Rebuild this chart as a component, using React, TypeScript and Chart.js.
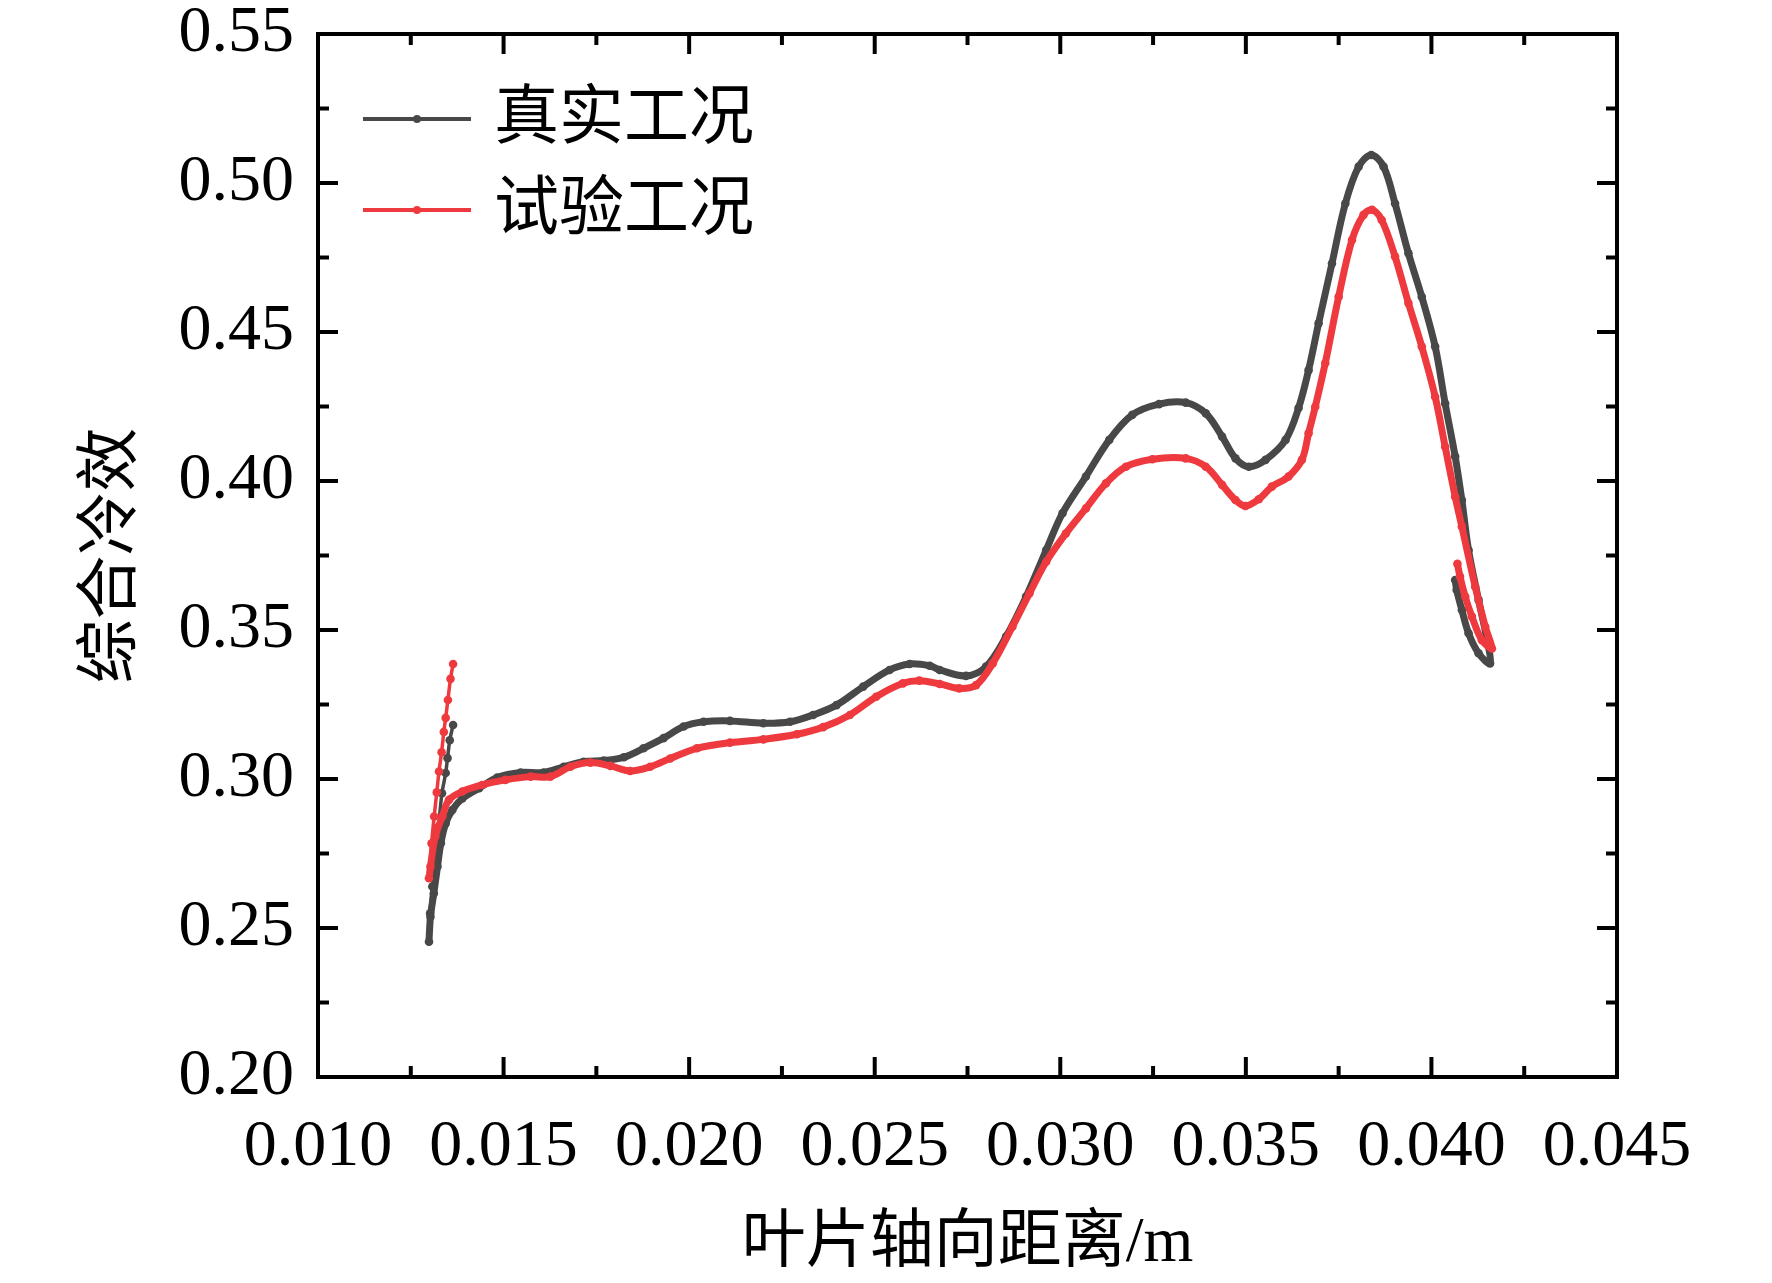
import React, { useEffect, useRef } from "react";
import { Chart, registerables } from "chart.js";

Chart.register(...registerables);

// 真实工况 (dark grey): leading-edge spike, main curve, trailing-edge hook
const realX = [
  0.01364, 0.01355, 0.01349, 0.01344, 0.01334, 0.01325, 0.01316, 0.01308, 0.01302, 0.01299,
  0.01303, 0.01312, 0.01322, 0.01331, 0.01344, 0.01362, 0.01389, 0.01434, 0.01483, 0.01546,
  0.01608, 0.01662, 0.01716, 0.0177, 0.01824, 0.01877, 0.01931, 0.01985, 0.02039, 0.0211,
  0.022, 0.02272, 0.02334, 0.02397, 0.02469, 0.0254, 0.02594, 0.02648, 0.02675, 0.02746,
  0.028, 0.02854, 0.02908, 0.02962, 0.03006, 0.03069, 0.03132, 0.03194, 0.03266, 0.03338,
  0.03392, 0.03436, 0.03472, 0.03508, 0.03553, 0.03607, 0.03642, 0.03669, 0.03696, 0.03732,
  0.03768, 0.03804, 0.03838, 0.03871, 0.03902, 0.03938, 0.03974, 0.0401, 0.04037, 0.04064,
  0.04082, 0.041, 0.04127, 0.0415, 0.04158, 0.04127, 0.041, 0.04082, 0.04068, 0.04064,
];
const realY = [
  0.3181, 0.313, 0.307, 0.302, 0.2952, 0.284, 0.2728, 0.2639, 0.2549, 0.2454,
  0.2538, 0.2616, 0.2706, 0.2784, 0.2851, 0.2896, 0.2935, 0.2969, 0.3005, 0.3022,
  0.3022, 0.3041, 0.3058, 0.3062, 0.3073, 0.3103, 0.3137, 0.3176, 0.3192, 0.3195,
  0.3187, 0.3192, 0.3215, 0.3248, 0.331, 0.3366, 0.3386, 0.338, 0.3366, 0.3346,
  0.3377, 0.3478, 0.3612, 0.3768, 0.3892, 0.4015, 0.4138, 0.4222, 0.4258, 0.4263,
  0.4227, 0.4149, 0.4076, 0.4048, 0.4071, 0.4138, 0.4245, 0.4372, 0.4529, 0.473,
  0.4931, 0.5055, 0.5094, 0.5055, 0.4931, 0.4764, 0.4618, 0.4451, 0.426, 0.4082,
  0.3936, 0.3768, 0.3601, 0.3466, 0.3388, 0.3422, 0.3489, 0.3567, 0.3634, 0.3668,
];

// 试验工况 (red)
const testX = [
  0.01364, 0.01357, 0.0135, 0.01344, 0.01339, 0.01333, 0.01326, 0.0132, 0.01313, 0.01306,
  0.01299, 0.01303, 0.01316, 0.01335, 0.01353, 0.01389, 0.01442, 0.01505, 0.01573, 0.01626,
  0.0168, 0.01734, 0.01788, 0.01841, 0.01895, 0.01949, 0.02021, 0.0211, 0.022, 0.0229,
  0.02361, 0.02433, 0.02504, 0.02576, 0.0262, 0.02675, 0.02728, 0.02773, 0.02818, 0.02871,
  0.02917, 0.02962, 0.03015, 0.03069, 0.03123, 0.03177, 0.03248, 0.03338, 0.03392, 0.03436,
  0.03472, 0.03499, 0.03535, 0.0357, 0.03615, 0.03651, 0.03669, 0.03687, 0.03714, 0.0375,
  0.03786, 0.03817, 0.0384, 0.03866, 0.03902, 0.03938, 0.03974, 0.0401, 0.04037, 0.04064,
  0.04082, 0.04118, 0.04145, 0.04163, 0.04136, 0.04109, 0.04091, 0.04077, 0.0407,
];
const testY = [
  0.3386, 0.3336, 0.3265, 0.3205, 0.3158, 0.309, 0.3025, 0.2955, 0.2874, 0.2784,
  0.2667, 0.2706, 0.2807, 0.2874, 0.293, 0.2958, 0.298, 0.2997, 0.3008, 0.3008,
  0.3041, 0.3055, 0.3044, 0.3027, 0.3041, 0.3069, 0.3103, 0.3122, 0.3133, 0.315,
  0.3174, 0.3215, 0.3276, 0.3321, 0.333, 0.3319, 0.3304, 0.3315, 0.3388, 0.3511,
  0.3623, 0.3729, 0.3824, 0.3908, 0.3992, 0.4048, 0.4073, 0.4076, 0.4048, 0.3987,
  0.3936, 0.3916, 0.3939, 0.3981, 0.4015, 0.4071, 0.416, 0.4249, 0.4396, 0.4618,
  0.4809, 0.4893, 0.491, 0.4876, 0.4753, 0.4597, 0.4451, 0.4283, 0.4115, 0.3947,
  0.3847, 0.3645, 0.3511, 0.3438, 0.3466, 0.3545, 0.3612, 0.3679, 0.3722,
];

const seriesNames = ["真实工况", "试验工况"];
const xTicks = [0.01, 0.015, 0.02, 0.025, 0.03, 0.035, 0.04, 0.045];
const yTicks = [0.2, 0.25, 0.3, 0.35, 0.4, 0.45, 0.5, 0.55];
// last point index of the thin leading-edge spike in each series
const spikeEnd = [9, 10];

const FONT = '"Liberation Serif", "Noto Sans CJK SC", serif';
const GREY = "#484848";
const RED = "#ee3a3e";

// box, inward ticks on all four sides, and the legend in the top-left corner
const framePlugin = {
  id: "frame",
  afterDraw(chart: any) {
    const { ctx, chartArea: a, scales } = chart;
    const xs = scales.x;
    const ys = scales.y;
    ctx.save();
    ctx.strokeStyle = "#000";
    ctx.lineWidth = 4;
    ctx.lineCap = "butt";
    ctx.strokeRect(a.left, a.top, a.right - a.left, a.bottom - a.top);

    const line = (x1: number, y1: number, x2: number, y2: number) => {
      ctx.beginPath();
      ctx.moveTo(x1, y1);
      ctx.lineTo(x2, y2);
      ctx.stroke();
    };
    const xMark = (v: number, len: number) => {
      const p = xs.getPixelForValue(v);
      line(p, a.bottom, p, a.bottom - len);
      line(p, a.top, p, a.top + len);
    };
    const yMark = (v: number, len: number) => {
      const p = ys.getPixelForValue(v);
      line(a.left, p, a.left + len, p);
      line(a.right, p, a.right - len, p);
    };
    xTicks.forEach((v, i) => {
      xMark(v, 20);
      if (i < xTicks.length - 1) xMark((v + xTicks[i + 1]) / 2, 11);
    });
    yTicks.forEach((v, i) => {
      yMark(v, 20);
      if (i < yTicks.length - 1) yMark((v + yTicks[i + 1]) / 2, 11);
    });

    // legend
    chart.data.datasets.forEach((ds: any, i: number) => {
      const rowY = a.top + 85 + i * 91;
      ctx.strokeStyle = ds.borderColor;
      ctx.lineWidth = 4;
      line(a.left + 45, rowY, a.left + 153, rowY);
      ctx.fillStyle = ds.borderColor;
      ctx.beginPath();
      ctx.arc(a.left + 99, rowY, 4, 0, Math.PI * 2);
      ctx.fill();
      ctx.fillStyle = "#000";
      ctx.font = `65px ${FONT}`;
      ctx.textAlign = "left";
      ctx.textBaseline = "middle";
      ctx.fillText(ds.label, a.left + 176, rowY + 2);
    });
    ctx.restore();
  },
};

const makeSeries = (idx: number, xs: number[], ys: number[], color: string) => ({
  label: seriesNames[idx],
  data: xs.map((x, i) => ({ x, y: ys[i] })),
  showLine: true,
  borderColor: color,
  backgroundColor: color,
  borderWidth: 7,
  pointRadius: 4.3,
  pointHoverRadius: 4.3,
  pointBorderWidth: 0,
  tension: 0.35,
  segment: {
    borderWidth: (c: any) => (c.p1DataIndex <= spikeEnd[idx] ? 3.5 : 7),
  },
});

export default function App() {
  const canvasRef = useRef<HTMLCanvasElement | null>(null);
  const chartRef = useRef<Chart | null>(null);

  useEffect(() => {
    const ctx = canvasRef.current?.getContext("2d");
    if (!ctx) return;
    if (chartRef.current) chartRef.current.destroy();

    chartRef.current = new Chart(ctx, {
      type: "scatter",
      data: {
        datasets: [
          { ...makeSeries(0, realX, realY, GREY), order: 1 },
          { ...makeSeries(1, testX, testY, RED), order: 0 },
        ],
      },
      options: {
        animation: false,
        responsive: true,
        maintainAspectRatio: false,
        devicePixelRatio: 1,
        layout: { padding: { top: 34, right: 155, bottom: 0, left: 0 } },
        plugins: { legend: { display: false }, tooltip: { enabled: false } },
        scales: {
          x: {
            type: "linear",
            min: 0.01,
            max: 0.045,
            afterBuildTicks: (s: any) => {
              s.ticks = xTicks.map((v) => ({ value: v }));
            },
            afterFit: (s: any) => {
              s.height = 206;
              s.paddingLeft = 0;
              s.paddingRight = 0;
            },
            ticks: {
              callback: (v: any) => Number(v).toFixed(3),
              font: { family: FONT, size: 66 },
              color: "#000",
              padding: 31,
              maxRotation: 0,
              autoSkip: false,
            },
            grid: { display: false, drawTicks: false },
            border: { display: false },
            title: {
              display: true,
              text: "叶片轴向距离/m",
              font: { family: FONT, size: 64 },
              color: "#000",
              padding: { top: 0, bottom: 0 },
            },
          },
          y: {
            type: "linear",
            min: 0.2,
            max: 0.55,
            afterBuildTicks: (s: any) => {
              s.ticks = yTicks.map((v) => ({ value: v }));
            },
            afterFit: (s: any) => {
              s.width = 318;
              s.paddingTop = 0;
              s.paddingBottom = 0;
            },
            ticks: {
              callback: (v: any) => Number(v).toFixed(2),
              font: { family: FONT, size: 66 },
              color: "#000",
              padding: 24,
              autoSkip: false,
            },
            grid: { display: false, drawTicks: false },
            border: { display: false },
            title: {
              display: true,
              text: "综合冷效",
              font: { family: FONT, size: 64 },
              color: "#000",
              padding: { top: 75, bottom: 0 },
            },
          },
        },
      },
      plugins: [framePlugin],
    });

    return () => {
      if (chartRef.current) {
        chartRef.current.destroy();
        chartRef.current = null;
      }
    };
  }, []);

  return (
    <div
      style={{
        position: "absolute",
        left: 0,
        top: 0,
        width: "1772px",
        height: "1283px",
        background: "#fff",
      }}
    >
      <canvas ref={canvasRef} />
    </div>
  );
}
